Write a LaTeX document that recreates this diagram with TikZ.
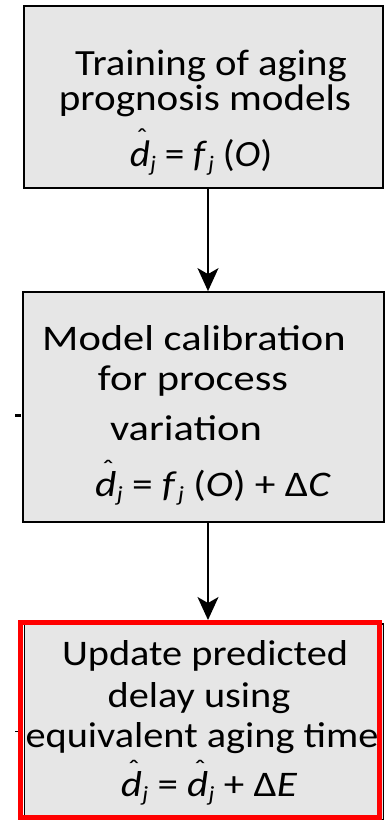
\documentclass[tikz,border=0pt]{standalone}
\usepackage{fontspec}
\setmainfont{Carlito}
\usetikzlibrary{arrows.meta}
\definecolor{boxgray}{HTML}{E6E6E6}
\definecolor{framered}{HTML}{FF0000}
\newcommand{\sx}[2]{\scalebox{#1}[1]{#2}}
\newcommand{\hatd}{\leavevmode\hbox{\rlap{\kern0.17em\raisebox{0.5em}{\scalebox{0.75}{ˆ}}}\textit{d}}}
\newcommand{\dhatj}{\leavevmode\hbox{\hatd\kern0.01em\raisebox{-0.16em}{\scalebox{0.6}{\textit{j}}}}}
\newcommand{\fj}{\leavevmode\hbox{\textit{f}\kern0.03em\raisebox{-0.16em}{\scalebox{0.6}{\textit{j}}}}}
\begin{document}
\begin{tikzpicture}[x=1pt,y=-1pt,
  procbox/.style={draw=black,line width=1.8pt,fill=boxgray,inner sep=0pt},
  txt/.style={anchor=base,inner sep=0pt,font=\fontsize{36}{40}\selectfont},
  bigtxt/.style={txt,font=\fontsize{37}{40}\selectfont},
  conn/.style={line width=1.6pt,-{Stealth[length=23pt,width=21pt,inset=6pt]}},
  redframe/.style={draw=framered,line width=5pt,inner sep=0pt}]
\useasboundingbox (0,0) rectangle (387,820);
% boxes
\node[procbox,minimum width=359pt,minimum height=182pt] (b1) at (203.5,97) {};
\node[procbox,minimum width=361pt,minimum height=230pt] (b2) at (203.5,407) {};
\node[procbox,minimum width=359pt,minimum height=196pt] (b3) at (204,722) {};
\node[redframe,minimum width=359pt,minimum height=195pt] (r3) at (200,720) {};
% connector points
\coordinate (x0) at (208,0);
\draw[conn] (b1.south -| x0) -- (b2.north -| x0);
\draw[conn] (b2.south -| x0) -- (r3.north -| x0);
% texts box 1
\node[bigtxt] (t11) at (211,75) {\sx{1.1}{Training of aging}};
\node[bigtxt] (t12) at (205,110) {\sx{1.11}{prognosis models}};
\node[bigtxt] (t13) at (201,166) {\sx{1.06}{\dhatj\ = \fj\ (\textit{O})}};
% texts box 2
\node[txt] (t21) at (194,350) {\sx{1.18}{Model calibration}};
\node[txt] (t22) at (193,390) {\sx{1.18}{for process}};
\node[txt] (t23) at (186,440) {\sx{1.18}{variation}};
\node[txt] (t24) at (213,496) {\sx{1.15}{\dhatj\ = \fj\ (\textit{O}) + Δ\textit{C}}};
% texts box 3
\node[txt] (t31) at (205,665) {\sx{1.12}{Update predicted}};
\node[txt] (t32) at (199,707) {\sx{1.12}{delay using}};
\node[txt] (t33) at (202,747) {\sx{1.12}{equivalent aging time}};
\node[txt] (t34) at (209,796) {\sx{1.14}{\dhatj\ = \dhatj\ + Δ\textit{E}}};
% small stray ticks
\coordinate (k1a) at (15,415);
\coordinate (k1b) at (21,415);
\draw[line width=3pt] (k1a) -- (k1b);
\coordinate (k2a) at (15,731);
\coordinate (k2b) at (18,731);
\draw[line width=1pt] (k2a) -- (k2b);
\end{tikzpicture}
\end{document}
